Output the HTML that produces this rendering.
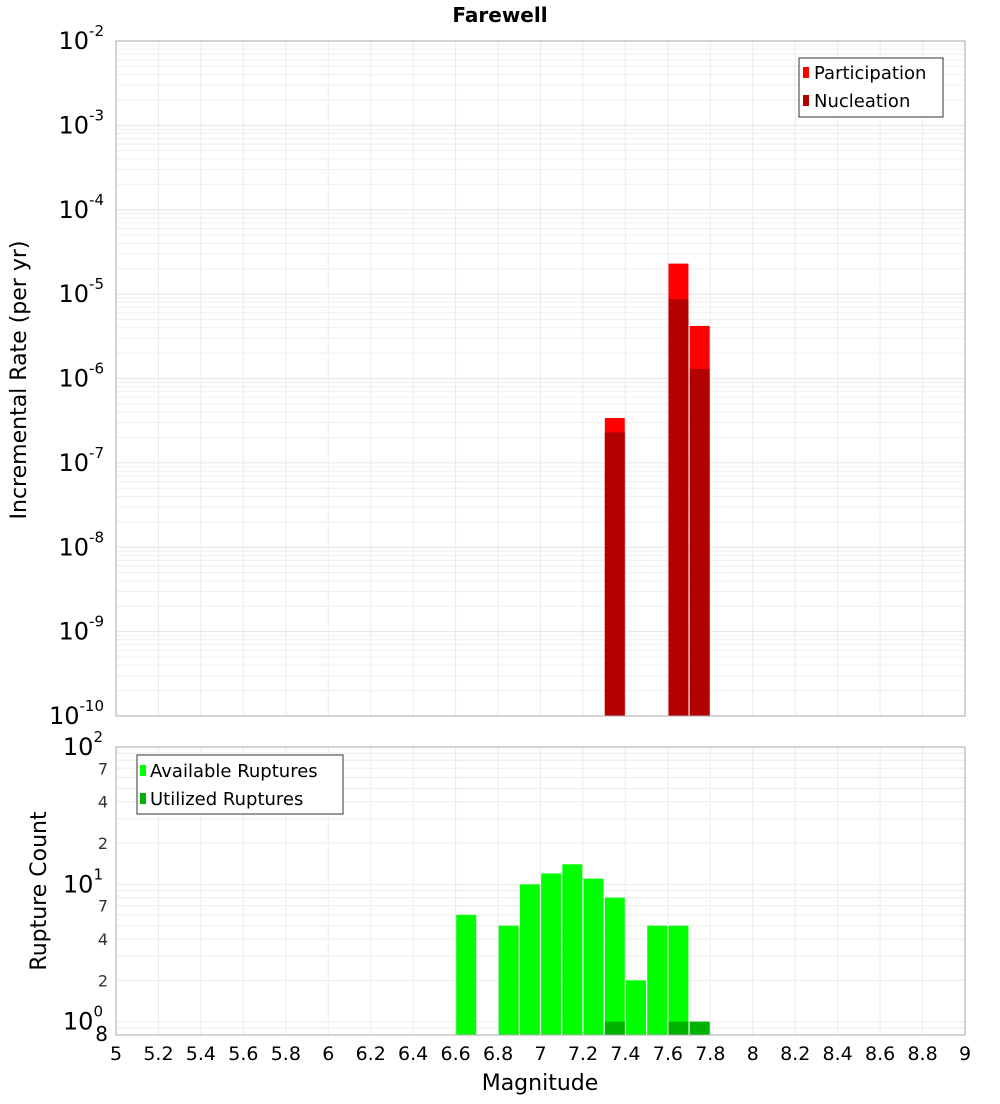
<!DOCTYPE html>
<html><head><meta charset="utf-8"><style>
body{margin:0;background:#fff;font-family:"DejaVu Sans","Liberation Sans",sans-serif;}
</style></head><body>
<svg id="c" width="1000" height="1100" xmlns="http://www.w3.org/2000/svg" font-family="DejaVu Sans, Liberation Sans, sans-serif"></svg>
<script>
const mags=[6.65,6.75,6.85,6.95,7.05,7.15,7.25,7.35,7.45,7.55,7.65,7.75];
const participation=[0,0,0,0,0,0,0,3.4e-7,0,0,2.3e-5,4.2e-6];
const nucleation=[0,0,0,0,0,0,0,2.3e-7,0,0,8.7e-6,1.3e-6];
const available=[6,0,5,10,12,14,11,8,2,5,5,1];
const utilized=[0,0,0,0,0,0,0,1,0,0,1,1];
const xTicks=[5,5.2,5.4,5.6,5.8,6,6.2,6.4,6.6,6.8,7,7.2,7.4,7.6,7.8,8,8.2,8.4,8.6,8.8,9];
const topExps=[-10,-9,-8,-7,-6,-5,-4,-3,-2];
const botMinor=[2,4,7,20,40,70];

const svg=document.getElementById('c');const NS='http://www.w3.org/2000/svg';
function el(t,a,txt,p){const e=document.createElementNS(NS,t);for(const k in a)e.setAttribute(k,a[k]);if(txt!=null)e.textContent=txt;(p||svg).appendChild(e);return e;}
const X0=116,X1=965;
const x=v=>X0+(v-5)/4*(X1-X0);
const T0=41,T1=716;
const yT=v=>T0+(-2-Math.log10(v))/8*(T1-T0);
const B0=747,B1=1035;
const yB=v=>B0+(2-Math.log10(v))/(2-Math.log10(0.8))*(B1-B0);
const bw=0.094;

let t=el('text',{x:500,y:22,'text-anchor':'middle','font-size':20,'font-weight':'bold'},'Farewell');


// top grid
for(let e=-10;e<-2;e++)for(let m=1;m<10;m++){const yy=yT(m*Math.pow(10,e));el('line',{x1:X0,x2:X1,y1:yy,y2:yy,stroke:m==1?'#e4e4e4':'#efefef','stroke-width':1});}
xTicks.forEach(v=>{el('line',{x1:x(v),x2:x(v),y1:T0,y2:T1,stroke:'#ebebeb'});el('line',{x1:x(v),x2:x(v),y1:B0,y2:B1,stroke:'#ebebeb'});});
for(let e=-1;e<2;e++)for(let m=1;m<10;m++){const v=m*Math.pow(10,e);if(v<0.8||v>100)continue;const yy=yB(v);el('line',{x1:X0,x2:X1,y1:yy,y2:yy,stroke:'#ebebeb'});}

// top bars
mags.forEach((m,i)=>{
 if(participation[i]>0){const r=el('rect',{x:x(m-bw/2),width:x(bw)-x(0),y:yT(participation[i]),height:T1-yT(participation[i]),fill:'#ff0000'});
 }
 if(nucleation[i]>0){const r=el('rect',{x:x(m-bw/2),width:x(bw)-x(0),y:yT(nucleation[i]),height:T1-yT(nucleation[i]),fill:'#b30000'});
 }
});
// bottom bars
mags.forEach((m,i)=>{
 if(available[i]>0){const r=el('rect',{x:x(m-bw/2),width:x(bw)-x(0),y:yB(available[i]),height:B1-yB(available[i]),fill:'#00ff00'});
 }
 if(utilized[i]>0){const r=el('rect',{x:x(m-bw/2),width:x(bw)-x(0),y:yB(utilized[i]),height:B1-yB(utilized[i]),fill:'#00b300'});
 }
});
el('rect',{x:X0,y:T0,width:X1-X0,height:T1-T0,fill:'none',stroke:'#aaa'});
el('rect',{x:X0,y:B0,width:X1-X0,height:B1-B0,fill:'none',stroke:'#aaa'});

// top y labels
topExps.forEach(e=>{const yy=yT(Math.pow(10,e));const g=el('text',{x:104,y:yy+8,'text-anchor':'end','font-size':24});
 
 el('tspan',{},'10',g);el('tspan',{dy:-13,'font-size':15},String(e),g);});
[2,1,0].forEach(e=>{const yy=yB(Math.pow(10,e));const g=el('text',{x:103,y:yy+8,'text-anchor':'end','font-size':24});
 
 el('tspan',{},'10',g);el('tspan',{dy:-13,'font-size':15},String(e),g);});
botMinor.forEach(v=>{const s=String(v)[0];const tt=el('text',{x:108,y:yB(v)+6,'text-anchor':'end','font-size':16,fill:'#333'},s);
 });
t=el('text',{x:108,y:1041,'text-anchor':'end','font-size':20},'8');
xTicks.forEach(v=>{const tt=el('text',{x:x(v),y:1060,'text-anchor':'middle','font-size':19},String(v));
 });
t=el('text',{x:540,y:1090,'text-anchor':'middle','font-size':22},'Magnitude');
t=el('text',{x:0,y:0,'text-anchor':'middle','font-size':22,transform:'translate(26,380) rotate(-90)'},'Incremental Rate (per yr)');
t=el('text',{x:0,y:0,'text-anchor':'middle','font-size':22,transform:'translate(46,891) rotate(-90)'},'Rupture Count');

// legends
let lg=el('g',{});
el('rect',{x:799,y:58,width:144,height:59,fill:'#fff',stroke:'#333'},null,lg);
el('rect',{x:803,y:67,width:6,height:11,fill:'#ff0000'},null,lg);
el('text',{x:814,y:79,'font-size':18},'Participation',lg);
el('rect',{x:803,y:95,width:6,height:11,fill:'#b30000'},null,lg);
el('text',{x:814,y:107,'font-size':18},'Nucleation',lg);
lg=el('g',{});
el('rect',{x:137,y:755,width:206,height:59,fill:'#fff',stroke:'#333'},null,lg);
el('rect',{x:140,y:765,width:6,height:11,fill:'#00ff00'},null,lg);
el('text',{x:150,y:777,'font-size':18},'Available Ruptures',lg);
el('rect',{x:140,y:793,width:6,height:11,fill:'#00b300'},null,lg);
el('text',{x:150,y:805,'font-size':18},'Utilized Ruptures',lg);
</script>
</body></html>
